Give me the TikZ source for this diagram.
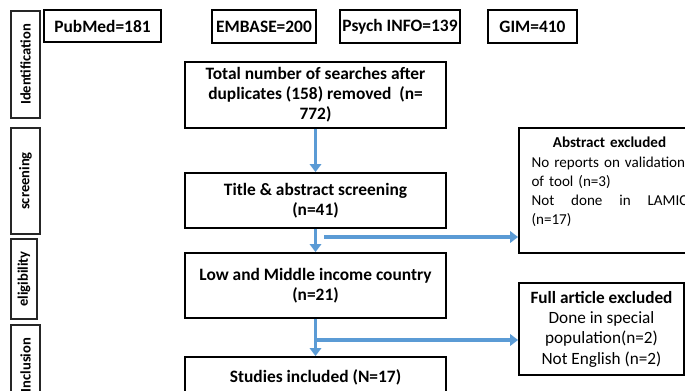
\documentclass[tikz,border=0pt]{standalone}
\usepackage{fontspec}
\setmainfont{Carlito}
\usetikzlibrary{arrows.meta}
\definecolor{flowblue}{RGB}{91,155,213}

\begin{document}
\begin{tikzpicture}[x=0.02cm,y=-0.02cm,
    box/.style={draw=black,line width=1.1pt,inner sep=0pt,align=center,
        font=\bfseries\fontsize{9.9}{11.4}\selectfont},
    stage/.style={draw=black!85,line width=0.8pt,inner sep=0pt,rotate=90,
        font=\bfseries\fontsize{8.3}{9}\selectfont},
    flow/.style={draw=flowblue,line width=2pt,-{Triangle[length=4.5pt,width=6.5pt]}}]
    \useasboundingbox (0,0) rectangle (685,391);
    \clip (0,0) rectangle (685,391);
    % stages on the left
    \node[stage,minimum width=2.14cm,minimum height=0.58cm] (ident) at (25.5,64.5) {Identification};
    \node[stage,minimum width=2.12cm,minimum height=0.58cm] (screen) at (25.5,181) {screening};
    \node[stage,minimum width=1.6cm,minimum height=0.52cm] (elig) at (24,279) {eligibility};
    \node[stage,minimum width=1.6cm,minimum height=0.58cm] (incl) at (25.5,365) {Inclusion};
    % databases
    \node[box,minimum width=2.34cm,minimum height=0.64cm] (pubmed) at (102.5,26) {PubMed=181};
    \node[box,minimum width=2.08cm,minimum height=0.66cm] (embase) at (264,26.5) {EMBASE=200};
    \node[box,minimum width=2.4cm,minimum height=0.66cm] (psych) at (400,26.5) {Psych INFO=139};
    \node[box,minimum width=1.78cm,minimum height=0.66cm] (gim) at (532.5,26.5) {GIM=410};
    % main column
    \node[box,minimum width=5.22cm,minimum height=1.32cm] (total) at (315.5,95)
        {Total number of searches after\\duplicates (158) removed~ (n=\\772)};
    \node[box,minimum width=5.22cm,minimum height=1.1cm] (title) at (315.5,200.5)
        {Title \& abstract screening\\(n=41)};
    \node[box,minimum width=5.22cm,minimum height=1.3cm] (low) at (315.5,285.5)
        {Low and Middle income country\\(n=21)};
    \node[box,minimum width=5.22cm,minimum height=0.8cm] (studies) at (315.5,377)
        {Studies included (N=17)};
    % exclusions
    \node[box,minimum width=3.62cm,minimum height=2.5cm,text width=3.12cm,align=left,
        font=\fontsize{8.6}{10.9}\selectfont] (abs) at (609.5,190.5)
        {\makebox[\linewidth]{\bfseries Abstract excluded}\\
         No reports on validation\\
         of tool (n=3)\\
         Not\hfill done\hfill in\hfill LAMIC\\
         (n=17)\\
         \mbox{}};
    \node[box,minimum width=3.3cm,minimum height=1.84cm,
        font=\fontsize{9.8}{11.6}\selectfont] (full) at (601.5,329)
        {\textbf{Full article excluded}\\Done in special\\population(n=2)\\Not English (n=2)};
    % arrows
    \draw[flow] (total.south) -- (title.north);
    \draw[flow] (title.south) -- (low.north);
    \draw[flow] (low.south) -- (studies.north);
    \coordinate (gap1) at (324,237);
    \draw[flow] (gap1) -- (gap1 -| abs.west);
    \coordinate (gap2) at (317,340);
    \draw[flow] (gap2) -- (gap2 -| full.west);
\end{tikzpicture}
\end{document}
